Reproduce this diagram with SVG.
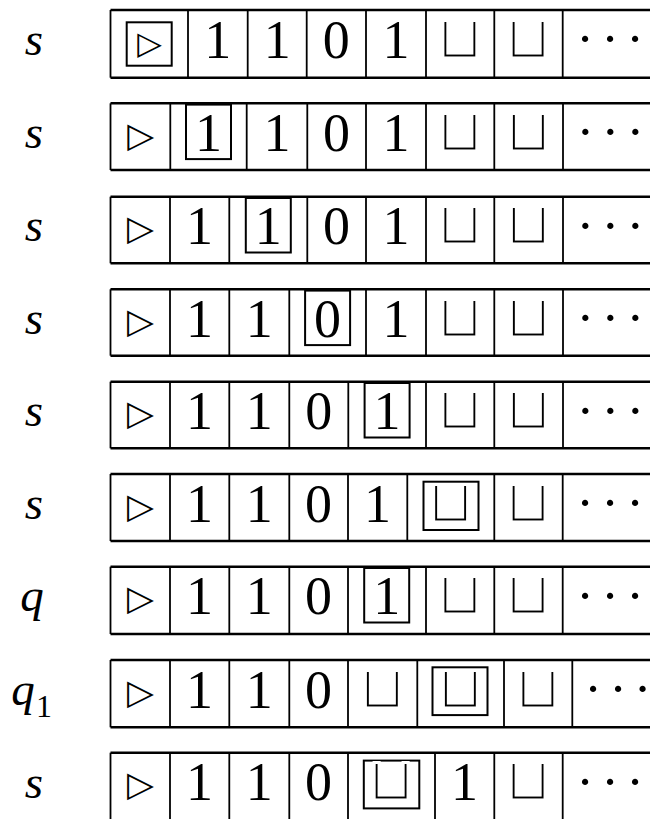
<svg xmlns="http://www.w3.org/2000/svg" width="650" height="819" viewBox="0 0 650 819">
<style>
.h{stroke:#000;stroke-width:2.4}
.v{stroke:#000;stroke-width:1.8}
.box{fill:none;stroke:#000;stroke-width:2}
.d{font-family:"Liberation Serif","Times New Roman","DejaVu Serif",serif;font-size:54px;text-anchor:middle;fill:#000}
.tri{font-family:"DejaVu Sans",sans-serif;font-size:35px;text-anchor:middle;fill:#000}
.cup{font-family:"DejaVu Sans",sans-serif;font-size:60px;text-anchor:middle;fill:#000;stroke:#fff;stroke-width:3}
.dot{font-family:"Liberation Serif","Times New Roman",serif;font-size:53px;text-anchor:middle;fill:#000}
.lbl{font-family:"Liberation Serif","Times New Roman",serif;font-style:italic;font-size:47px;text-anchor:middle;fill:#000}
.sub{font-family:"Liberation Serif","Times New Roman",serif;font-size:32px;text-anchor:middle;fill:#000}
</style>

<g id="row1">
<text class="lbl" x="34" y="55">s</text>
<line class="h" x1="110.5" y1="10" x2="650" y2="10"/><line class="h" x1="110.5" y1="77.7" x2="650" y2="77.7"/>
<line class="v" x1="110.5" y1="10" x2="110.5" y2="77.7"/><line class="v" x1="188" y1="10" x2="188" y2="77.7"/><line class="v" x1="247.7" y1="10" x2="247.7" y2="77.7"/><line class="v" x1="306.7" y1="10" x2="306.7" y2="77.7"/><line class="v" x1="366" y1="10" x2="366" y2="77.7"/><line class="v" x1="426" y1="10" x2="426" y2="77.7"/><line class="v" x1="494.3" y1="10" x2="494.3" y2="77.7"/><line class="v" x1="562.7" y1="10" x2="562.7" y2="77.7"/>
<rect class="box" x="126.7" y="22.3" width="45" height="43.4"/>
<text class="tri" x="149.5" y="53.5" style="font-size:32px">▷</text>
<text class="d" x="217.8" y="57.5">1</text><text class="d" x="277.2" y="57.5">1</text><text class="d" x="336.3" y="57.5">0</text><text class="d" x="396" y="57.5">1</text>
<text class="cup" x="460.2" y="57.5">⊔</text><text class="cup" x="528.5" y="57.5">⊔</text>
<text class="dot" x="585 610 635" y="56">···</text>
</g>

<g id="row2">
<text class="lbl" x="34" y="148">s</text>
<line class="h" x1="110.5" y1="103.3" x2="650" y2="103.3"/><line class="h" x1="110.5" y1="170" x2="650" y2="170"/>
<line class="v" x1="110.5" y1="103.3" x2="110.5" y2="170"/><line class="v" x1="170.3" y1="103.3" x2="170.3" y2="170"/><line class="v" x1="246.7" y1="103.3" x2="246.7" y2="170"/><line class="v" x1="307.3" y1="103.3" x2="307.3" y2="170"/><line class="v" x1="366" y1="103.3" x2="366" y2="170"/><line class="v" x1="426" y1="103.3" x2="426" y2="170"/><line class="v" x1="494.3" y1="103.3" x2="494.3" y2="170"/><line class="v" x1="563" y1="103.3" x2="563" y2="170"/>
<rect class="box" x="186" y="104.6" width="45" height="54.5"/>
<text class="tri" x="140.6" y="147">▷</text>
<text class="d" x="208.5" y="150.8">1</text><text class="d" x="277" y="150.8">1</text><text class="d" x="336.6" y="150.8">0</text><text class="d" x="396" y="150.8">1</text>
<text class="cup" x="460.2" y="150.8">⊔</text><text class="cup" x="528.6" y="150.8">⊔</text>
<text class="dot" x="585.3 610.3 635.3" y="149.3">···</text>
</g>

<g id="row3">
<text class="lbl" x="34" y="241">s</text>
<line class="h" x1="110.5" y1="196.7" x2="650" y2="196.7"/><line class="h" x1="110.5" y1="263.3" x2="650" y2="263.3"/>
<line class="v" x1="110.5" y1="196.7" x2="110.5" y2="263.3"/><line class="v" x1="170" y1="196.7" x2="170" y2="263.3"/><line class="v" x1="229.3" y1="196.7" x2="229.3" y2="263.3"/><line class="v" x1="307.3" y1="196.7" x2="307.3" y2="263.3"/><line class="v" x1="366" y1="196.7" x2="366" y2="263.3"/><line class="v" x1="426" y1="196.7" x2="426" y2="263.3"/><line class="v" x1="494.3" y1="196.7" x2="494.3" y2="263.3"/><line class="v" x1="563" y1="196.7" x2="563" y2="263.3"/>
<rect class="box" x="245.8" y="198" width="45" height="54.5"/>
<text class="tri" x="140.4" y="240.4">▷</text>
<text class="d" x="199.6" y="244.2">1</text><text class="d" x="268.3" y="244.2">1</text><text class="d" x="336.6" y="244.2">0</text><text class="d" x="396" y="244.2">1</text>
<text class="cup" x="460.2" y="244.2">⊔</text><text class="cup" x="528.6" y="244.2">⊔</text>
<text class="dot" x="585.3 610.3 635.3" y="242.7">···</text>
</g>

<g id="row4">
<text class="lbl" x="34" y="334">s</text>
<line class="h" x1="110.5" y1="289.3" x2="650" y2="289.3"/><line class="h" x1="110.5" y1="355.7" x2="650" y2="355.7"/>
<line class="v" x1="110.5" y1="289.3" x2="110.5" y2="355.7"/><line class="v" x1="170" y1="289.3" x2="170" y2="355.7"/><line class="v" x1="229.3" y1="289.3" x2="229.3" y2="355.7"/><line class="v" x1="289.3" y1="289.3" x2="289.3" y2="355.7"/><line class="v" x1="366" y1="289.3" x2="366" y2="355.7"/><line class="v" x1="426" y1="289.3" x2="426" y2="355.7"/><line class="v" x1="494.3" y1="289.3" x2="494.3" y2="355.7"/><line class="v" x1="563" y1="289.3" x2="563" y2="355.7"/>
<rect class="box" x="305.1" y="290.6" width="45" height="54.5"/>
<text class="tri" x="140.4" y="333">▷</text>
<text class="d" x="199.6" y="336.8">1</text><text class="d" x="259.3" y="336.8">1</text><text class="d" x="327.6" y="336.8">0</text><text class="d" x="396" y="336.8">1</text>
<text class="cup" x="460.2" y="336.8">⊔</text><text class="cup" x="528.6" y="336.8">⊔</text>
<text class="dot" x="585.3 610.3 635.3" y="335.3">···</text>
</g>

<g id="row5">
<text class="lbl" x="34" y="426">s</text>
<line class="h" x1="110.5" y1="381.7" x2="650" y2="381.7"/><line class="h" x1="110.5" y1="448.3" x2="650" y2="448.3"/>
<line class="v" x1="110.5" y1="381.7" x2="110.5" y2="448.3"/><line class="v" x1="170" y1="381.7" x2="170" y2="448.3"/><line class="v" x1="229.3" y1="381.7" x2="229.3" y2="448.3"/><line class="v" x1="289.3" y1="381.7" x2="289.3" y2="448.3"/><line class="v" x1="348.3" y1="381.7" x2="348.3" y2="448.3"/><line class="v" x1="426" y1="381.7" x2="426" y2="448.3"/><line class="v" x1="494.3" y1="381.7" x2="494.3" y2="448.3"/><line class="v" x1="563" y1="381.7" x2="563" y2="448.3"/>
<rect class="box" x="364.6" y="383" width="45" height="54.5"/>
<text class="tri" x="140.4" y="425.4">▷</text>
<text class="d" x="199.6" y="429.2">1</text><text class="d" x="259.3" y="429.2">1</text><text class="d" x="318.8" y="429.2">0</text><text class="d" x="387.1" y="429.2">1</text>
<text class="cup" x="460.2" y="429.2">⊔</text><text class="cup" x="528.6" y="429.2">⊔</text>
<text class="dot" x="585.3 610.3 635.3" y="427.7">···</text>
</g>

<g id="row6">
<text class="lbl" x="34" y="519">s</text>
<line class="h" x1="110.5" y1="474" x2="650" y2="474"/><line class="h" x1="110.5" y1="541" x2="650" y2="541"/>
<line class="v" x1="110.5" y1="474" x2="110.5" y2="541"/><line class="v" x1="170" y1="474" x2="170" y2="541"/><line class="v" x1="229.3" y1="474" x2="229.3" y2="541"/><line class="v" x1="289.3" y1="474" x2="289.3" y2="541"/><line class="v" x1="348" y1="474" x2="348" y2="541"/><line class="v" x1="407.3" y1="474" x2="407.3" y2="541"/><line class="v" x1="494.3" y1="474" x2="494.3" y2="541"/><line class="v" x1="562.7" y1="474" x2="562.7" y2="541"/>
<rect class="box" x="423.5" y="481.7" width="55" height="48.3"/>
<text class="tri" x="140.4" y="517.7">▷</text>
<text class="d" x="199.6" y="521.5">1</text><text class="d" x="259.3" y="521.5">1</text><text class="d" x="318.6" y="521.5">0</text><text class="d" x="377.6" y="521.5">1</text>
<text class="cup" x="450.8" y="521.5">⊔</text><text class="cup" x="528.5" y="521.5">⊔</text>
<text class="dot" x="585 610 635" y="520">···</text>
</g>

<g id="row7">
<text class="lbl" x="32" y="611">q</text>
<line class="h" x1="110.5" y1="566.7" x2="650" y2="566.7"/><line class="h" x1="110.5" y1="634" x2="650" y2="634"/>
<line class="v" x1="110.5" y1="566.7" x2="110.5" y2="634"/><line class="v" x1="170" y1="566.7" x2="170" y2="634"/><line class="v" x1="229.3" y1="566.7" x2="229.3" y2="634"/><line class="v" x1="289.3" y1="566.7" x2="289.3" y2="634"/><line class="v" x1="348" y1="566.7" x2="348" y2="634"/><line class="v" x1="426" y1="566.7" x2="426" y2="634"/><line class="v" x1="494.3" y1="566.7" x2="494.3" y2="634"/><line class="v" x1="562.7" y1="566.7" x2="562.7" y2="634"/>
<rect class="box" x="364.2" y="568" width="45" height="54.5"/>
<text class="tri" x="140.4" y="610.4">▷</text>
<text class="d" x="199.6" y="614.2">1</text><text class="d" x="259.3" y="614.2">1</text><text class="d" x="318.6" y="614.2">0</text><text class="d" x="386.8" y="614.2">1</text>
<text class="cup" x="460.2" y="614.2">⊔</text><text class="cup" x="528.5" y="614.2">⊔</text>
<text class="dot" x="585 610 635" y="612.7">···</text>
</g>

<g id="row8">
<text class="lbl" x="23" y="705">q</text><text class="sub" x="44" y="716.5">1</text>
<line class="h" x1="110.5" y1="660" x2="650" y2="660"/><line class="h" x1="110.5" y1="727.3" x2="650" y2="727.3"/>
<line class="v" x1="110.5" y1="660" x2="110.5" y2="727.3"/><line class="v" x1="170" y1="660" x2="170" y2="727.3"/><line class="v" x1="229.3" y1="660" x2="229.3" y2="727.3"/><line class="v" x1="289.3" y1="660" x2="289.3" y2="727.3"/><line class="v" x1="348" y1="660" x2="348" y2="727.3"/><line class="v" x1="417.3" y1="660" x2="417.3" y2="727.3"/><line class="v" x1="504" y1="660" x2="504" y2="727.3"/><line class="v" x1="572.3" y1="660" x2="572.3" y2="727.3"/>
<rect class="box" x="432.5" y="667.3" width="55" height="47.8"/>
<text class="tri" x="140.4" y="703.7">▷</text>
<text class="d" x="199.6" y="707.5">1</text><text class="d" x="259.3" y="707.5">1</text><text class="d" x="318.6" y="707.5">0</text>
<text class="cup" x="382.6" y="707.5">⊔</text><text class="cup" x="460.6" y="707.5">⊔</text><text class="cup" x="538.1" y="707.5">⊔</text>
<text class="dot" x="593 618 642.5" y="706">···</text>
</g>

<g id="row9">
<text class="lbl" x="34" y="798">s</text>
<line class="h" x1="110.5" y1="752.7" x2="650" y2="752.7"/>
<line class="v" x1="110.5" y1="752.7" x2="110.5" y2="820"/><line class="v" x1="170" y1="752.7" x2="170" y2="820"/><line class="v" x1="229.3" y1="752.7" x2="229.3" y2="820"/><line class="v" x1="289.3" y1="752.7" x2="289.3" y2="820"/><line class="v" x1="348" y1="752.7" x2="348" y2="820"/><line class="v" x1="435" y1="752.7" x2="435" y2="820"/><line class="v" x1="494.3" y1="752.7" x2="494.3" y2="820"/><line class="v" x1="562.7" y1="752.7" x2="562.7" y2="820"/>
<rect class="box" x="363.8" y="760.6" width="55.5" height="47.8"/>
<text class="tri" x="140.4" y="796.4">▷</text>
<text class="d" x="199.6" y="800.2">1</text><text class="d" x="259.3" y="800.2">1</text><text class="d" x="318.6" y="800.2">0</text><text class="d" x="464.6" y="800.2">1</text>
<text class="cup" x="391.5" y="800.2">⊔</text><text class="cup" x="528.5" y="800.2">⊔</text>
<text class="dot" x="585 610 635" y="798.7">···</text>
</g>
</svg>
